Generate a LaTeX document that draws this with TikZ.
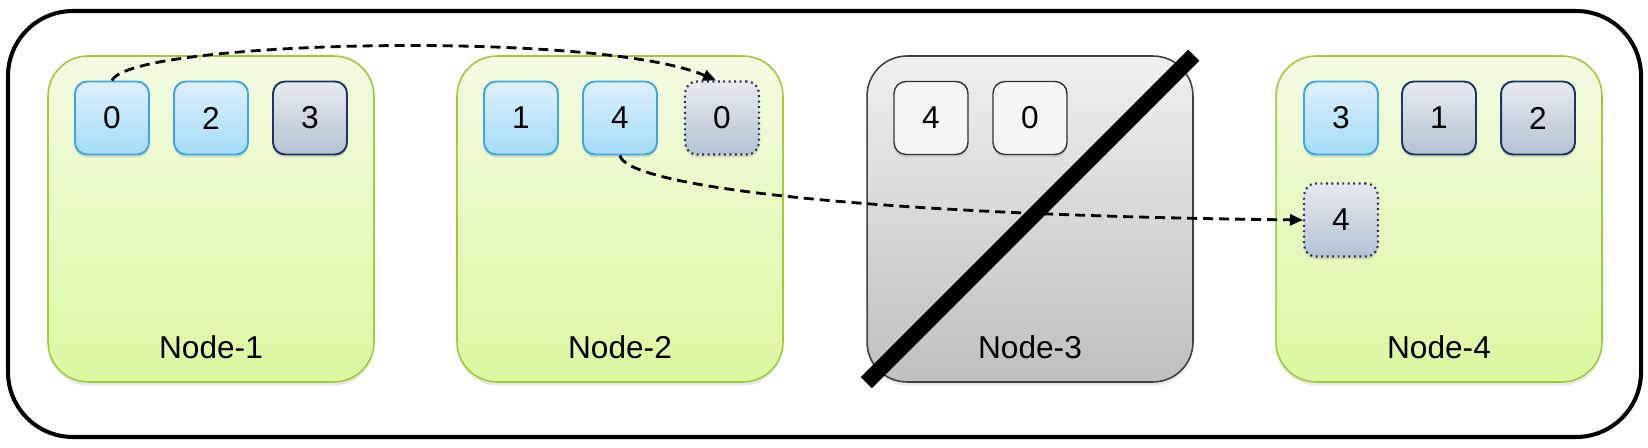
\documentclass[tikz,border=0pt]{standalone}
\usepackage{fontspec}
\setmainfont{Liberation Sans}
\usetikzlibrary{arrows.meta,shadows}

\definecolor{hostline}{HTML}{9DCB3A}
\definecolor{hosttop}{HTML}{F3FBE3}
\definecolor{hostbot}{HTML}{DCF8A0}
\definecolor{priline}{HTML}{3FA4DF}
\definecolor{pritop}{HTML}{DDF0FB}
\definecolor{pribot}{HTML}{A4DCF8}
\definecolor{repline}{HTML}{1D3461}
\definecolor{reptop}{HTML}{E7EBF0}
\definecolor{repbot}{HTML}{B3C2D3}

\tikzset{
  host/.style={draw=hostline, line width=0.9pt, rounded corners=0.8cm,
    top color=hosttop, bottom color=hostbot,
    minimum width=6.52cm, minimum height=6.52cm,
    drop shadow={shadow xshift=0cm, shadow yshift=-0.07cm, opacity=0.18}},
  deadhost/.style={host, draw=black!75, top color=black!6, bottom color=black!25},
  shard/.style={line width=1.1pt, rounded corners=0.24cm,
    minimum width=1.48cm, minimum height=1.46cm, inner sep=0pt,
    drop shadow={shadow xshift=0cm, shadow yshift=-0.06cm, opacity=0.22}},
  primary/.style={shard, draw=priline, top color=pritop, bottom color=pribot},
  replica/.style={shard, draw=repline, top color=reptop, bottom color=repbot},
  moving/.style={replica, dotted, line width=1.2pt},
  lost/.style={shard, draw=black!80, line width=0.8pt, fill=black!4},
  move/.style={line width=1.6pt, dash pattern=on 0.2cm off 0.12cm,
    -{Triangle[length=0.26cm,width=0.22cm]}},
}

\begin{document}
\begin{tikzpicture}[x=0.02cm,y=-0.02cm,font=\fontsize{18}{20}\selectfont]
  \useasboundingbox (0,0) rectangle (1648,448);
  \draw[line width=2.3pt, rounded corners=1.3cm] (8,11) rectangle (1641,437); % cluster

  \node[host] (n1) at (211,219) {};
  \node[host] (n2) at (620,219) {};
  \node[deadhost] (n3) at (1030,219) {};
  \node[host] (n4) at (1439,219) {};

  % Node-1
  \node[primary] (n1s0) at (112,118) {0};
  \node[primary] (n1s2) at (211,118) {2};
  \node[replica] (n1s3) at (310,118) {3};
  % Node-2
  \node[primary] (n2s1) at (521,118) {1};
  \node[primary] (n2s4) at (620,118) {4};
  \node[moving]  (n2s0) at (722,118) {0};
  % Node-3
  \node[lost] (n3s4) at (931,118) {4};
  \node[lost] (n3s0) at (1030,118) {0};
  % Node-4
  \node[primary] (n4s3) at (1341,118) {3};
  \node[replica] (n4s1) at (1439,118) {1};
  \node[replica] (n4s2) at (1538,118) {2};
  \node[moving]  (n4s4) at (1341,220) {4};

  \node (l1) at (211,347) {Node-1};
  \node (l2) at (620,347) {Node-2};
  \node (l3) at (1030,347) {Node-3};
  \node (l4) at (1439,347) {Node-4};

  \draw[move] (n1s0.north) .. controls (130,40) and (600,30) .. ([xshift=-0.12cm]n2s0.north);
  \draw[move] (n2s4.south) .. controls (625,185) and (850,215) .. (n4s4.west);

  \draw[line width=9pt] (n3.south west) -- (n3.north east); % node down
\end{tikzpicture}
\end{document}
